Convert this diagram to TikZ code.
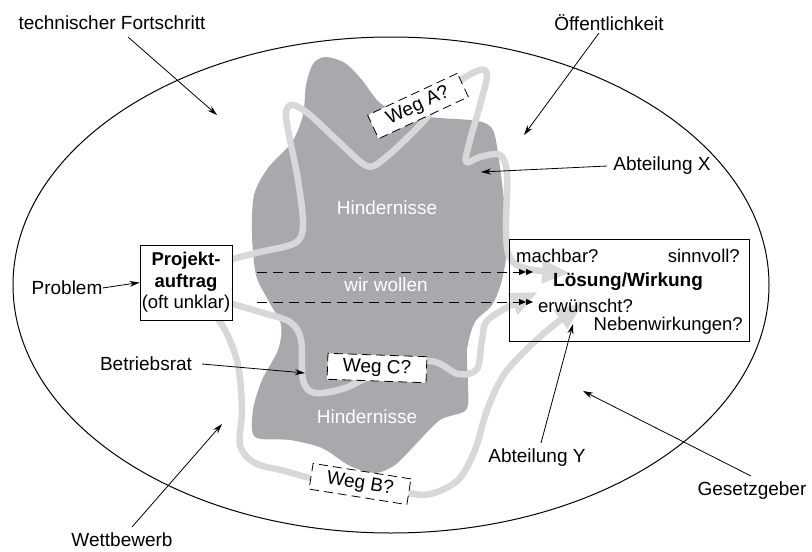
\documentclass[tikz,border=0pt]{standalone}
\usepackage{fontspec}
\setmainfont{Liberation Sans}
\usetikzlibrary{arrows.meta,shapes.geometric}
\definecolor{blobgray}{HTML}{A7A9AC}
\definecolor{pathgray}{HTML}{D8D8D8}
\begin{document}
\begin{tikzpicture}[x=1pt,y=-1pt,
  lbl/.style={font=\fontsize{19}{22}\selectfont, inner sep=0pt},
  boxtxt/.style={font=\fontsize{18.5}{22}\selectfont, inner sep=0pt},
  ptr/.style={-{Stealth[length=10pt,width=6pt]}, line width=0.8pt},
  gpath/.style={draw=pathgray, line width=6.5pt, line cap=round, line join=round},
  gtip/.style={-{Triangle[length=28pt,width=22pt]}},
  wegbox/.style={draw, fill=white, dash pattern=on 9pt off 5pt, line width=0.8pt,
    minimum width=99pt, minimum height=26pt, inner sep=0pt, font=\fontsize{19}{22}\selectfont},
  dasharr/.style={dash pattern=on 10pt off 6pt, line width=0.8pt,
    -{Triangle[length=7pt,width=6pt]Triangle[length=7pt,width=6pt]}},
]
\useasboundingbox (0,0) rectangle (812,552);

% field
\node[draw, ellipse, line width=1pt, minimum width=756pt, minimum height=496pt, inner sep=0pt] (field) at (391,285) {};

% obstacle blob
\fill[blobgray] plot[smooth cycle, tension=0.5] coordinates {
 (325,57) (345,63) (362,80) (380,103) (405,114) (440,118) (478,121) (493,130)
 (499,160) (504,200) (508,240) (502,280) (492,305) (475,322) (467,350) (468,385)
 (466,410) (440,420) (415,445) (395,465) (375,473) (350,466) (322,448) (290,440)
 (255,437) (253,410) (262,380) (278,350) (281,325) (268,300) (256,275) (252,235)
 (254,195) (268,168) (292,142) (303,115) (306,85) (313,64)};

\node[lbl, text=white] (h1) at (387,208) {Hindernisse};
\node[lbl, text=white] (h2) at (367,417) {Hindernisse};
\node[lbl, text=white] (ww) at (386,285) {wir wollen};

% grey routes
\draw[gpath, gtip] plot[smooth, tension=0.55] coordinates {
 (224,261) (260,252) (295,243) (303,225) (298,180) (289,135) (286,112) (293,105)
 (310,115) (340,143) (367,166) (385,158) (420,125) (455,85) (480,70) (487,76)
 (480,105) (470,140) (466,162) (480,157) (500,155) (507,175) (506,230) (510,258)
 (528,269) (570,273)};
\draw[gpath, gtip] plot[smooth, tension=0.55] coordinates {
 (226,302) (260,312) (290,322) (301,340) (303,380) (315,393) (345,388) (380,372)
 (430,361) (458,374) (477,369) (482,340) (490,318) (538,292)};
\draw[gpath, gtip] plot[smooth, tension=0.55] coordinates {
 (205,302) (225,330) (238,365) (242,410) (240,445) (255,463) (285,471) (320,480)
 (400,492) (430,494) (458,480) (475,450) (487,410) (503,376) (523,353) (549,329)
 (583,303)};

% route boxes
\node[wegbox, rotate=25] (wa) at (418,106) {Weg A?};
\node[wegbox, rotate=-2] (wc) at (377,368) {Weg C?};
\node[wegbox, rotate=-9] (wb) at (360,484) {Weg B?};

% dashed "wir wollen" arrows
\coordinate (d1s) at (257,272);
\coordinate (d1e) at (533,272);
\coordinate (d2s) at (257,302);
\coordinate (d2e) at (533,302);
\draw[dasharr] (d1s) -- (d1e);
\draw[dasharr] (d2s) -- (d2e);

% project box
\node[draw, fill=white, line width=0.8pt, minimum width=92pt, minimum height=75pt,
  align=center, inner sep=1pt, font=\fontsize{18.5}{21.5}\selectfont] (proj) at (186,282.5)
  {\textbf{Projekt-}\\\textbf{auftrag}\\(oft unklar)};

% solution box
\node[draw, line width=0.8pt, minimum width=240pt, minimum height=102pt, inner sep=0pt] (sol) at (629,290) {};
\node[boxtxt, anchor=west] (mach) at (516,256) {machbar?};
\node[boxtxt, anchor=east] (sinn) at (740,256) {sinnvoll?};
\node[lbl, font=\fontsize{19}{22}\selectfont\bfseries] (lw) at (628,282) {Lösung/Wirkung};
\node[boxtxt, anchor=west] (erw) at (538,306) {erwünscht?};
\node[boxtxt, anchor=east] (neb) at (743,326) {Nebenwirkungen?};

% outer labels
\node[lbl] (tf) at (112,23) {technischer Fortschritt};
\node[lbl] (oe) at (609,23) {Öffentlichkeit};
\node[lbl] (ax) at (662,166) {Abteilung X};
\node[lbl] (pr) at (67,288) {Problem};
\node[lbl] (br) at (146,364) {Betriebsrat};
\node[lbl] (wb2) at (122,540) {Wettbewerb};
\node[lbl] (ay) at (537,458) {Abteilung Y};
\node[lbl] (gg) at (752,491) {Gesetzgeber};

% pointer arrows
\coordinate (tfs) at (128,37);  \coordinate (tfe) at (217,115);
\coordinate (oes) at (599,33);  \coordinate (oee) at (524,135);
\coordinate (axe) at (481,172);
\coordinate (bre) at (305,373);
\coordinate (wbs) at (132,527); \coordinate (wbe) at (222,424);
\coordinate (ays) at (541,443); \coordinate (aye) at (573,324);
\coordinate (ggs) at (751,476); \coordinate (gge) at (583,391);
\draw[ptr] (tfs) -- (tfe);
\draw[ptr] (oes) -- (oee);
\draw[ptr] ([xshift=-6pt]ax.west) -- (axe);
\draw[ptr] (pr.east) -- (proj.west);
\draw[ptr] ([xshift=10pt]br.east) -- (bre);
\draw[ptr] (wbs) -- (wbe);
\draw[ptr] (ays) -- (aye);
\draw[ptr] (ggs) -- (gge);
\end{tikzpicture}
\end{document}
